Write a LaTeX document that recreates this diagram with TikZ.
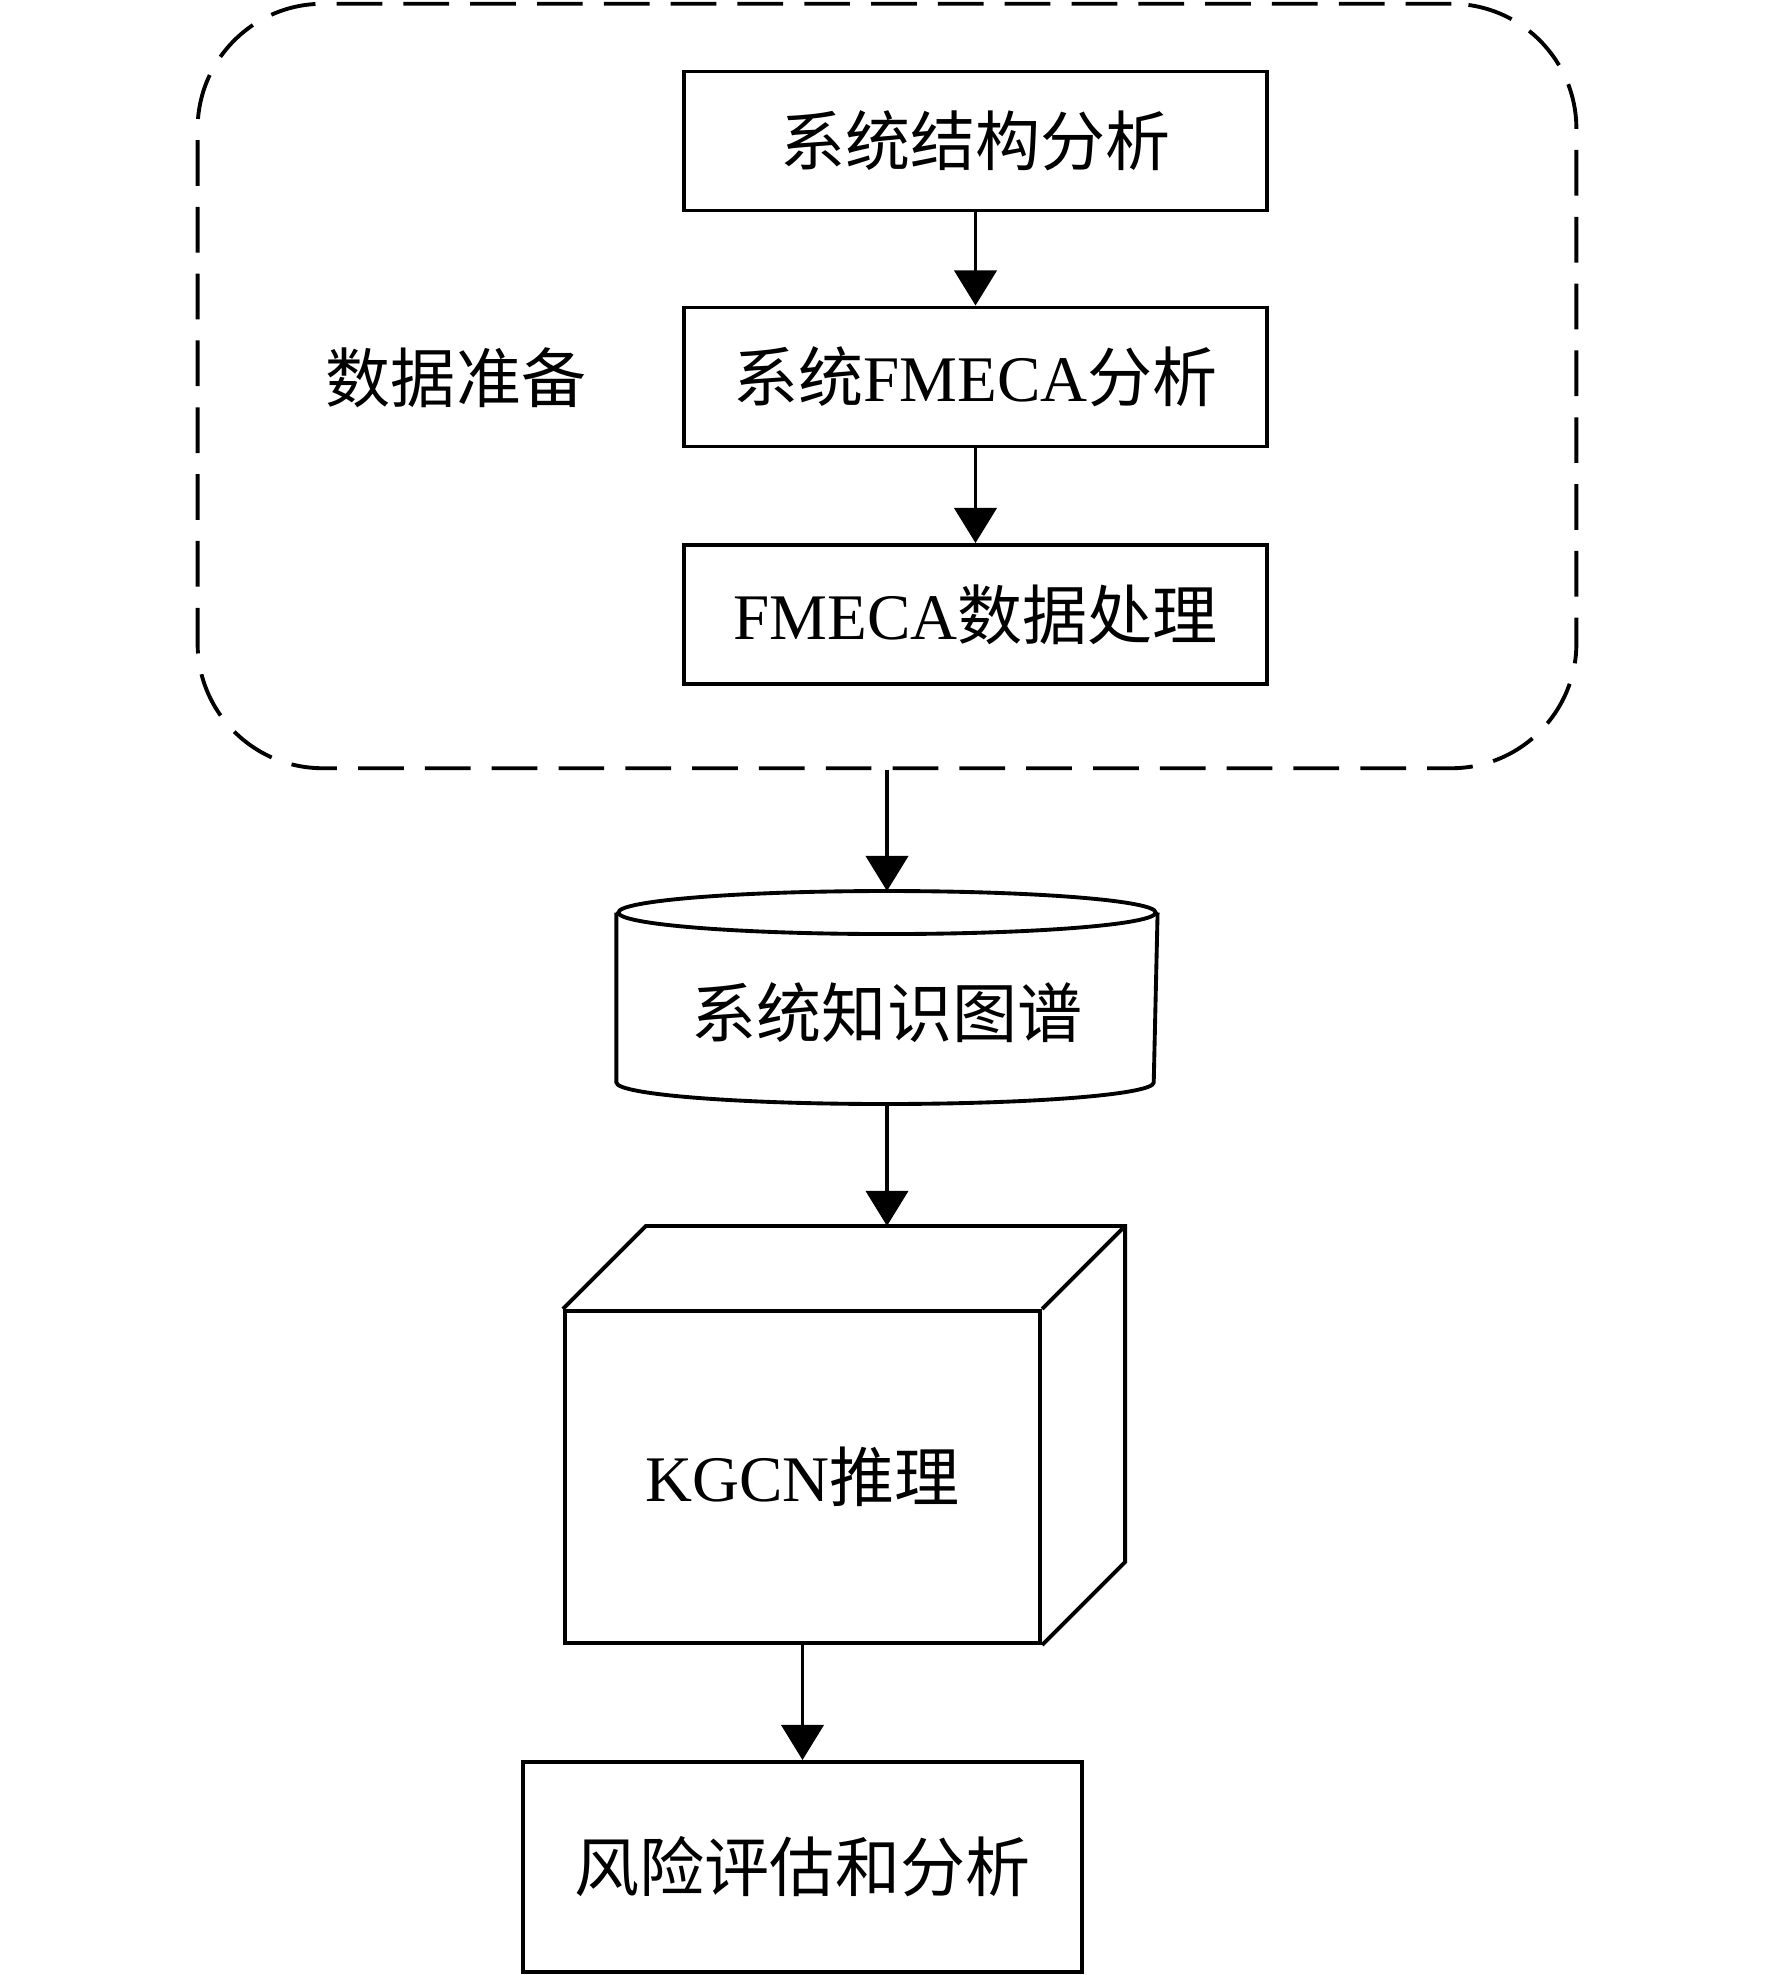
\documentclass[tikz,border=0pt]{standalone}
\usepackage{fontspec}
\setmainfont{Liberation Serif}
\newfontfamily\cjk{Noto Sans CJK SC}
\newcommand\zh[1]{{\cjk #1}}
\usetikzlibrary{arrows.meta,calc}
\tikzset{
  box/.style={draw, rectangle, inner sep=0pt, minimum width=5.83cm, minimum height=1.39cm},
  arr/.style={-{Triangle[length=10pt,width=12pt]}},
  prepframe/.style={draw, dashed, dash pattern=on 13pt off 6pt, rounded corners=1.25cm, inner sep=0pt, minimum width=13.78cm, minimum height=7.64cm},
}
\begin{document}
\begin{tikzpicture}[x=0.01cm, y=-0.01cm, line width=1.1pt, line join=miter, font=\fontsize{18.5pt}{22pt}\selectfont]
\useasboundingbox (0,0) rectangle (1772,1975);
% data preparation frame
\node[prepframe] (prep) at (887,386) {};
\node (preplabel) at (456,378) {\zh{数据准备}};
% boxes
\node[box] (b1) at (975.5,141) {\zh{系统结构分析}};
\node[box] (b2) at (975.5,377) {\zh{系统}FMECA\zh{分析}};
\node[box] (b3) at (975.5,614.5) {FMECA\zh{数据处理}};
\draw[arr] (b1) -- (b2);
\draw[arr] (b2) -- (b3);
% cylinder
\node[inner sep=0pt, minimum width=5.37cm, minimum height=2.09cm] (cyl) at (887,997.5) {};
\draw ([yshift=-0.215cm]cyl.north west) -- ([yshift=0.215cm]cyl.south west)
  arc[start angle=180, end angle=360, x radius=2.685cm, y radius=0.215cm]
  -- ([yshift=-0.215cm]cyl.north east);
\draw ([yshift=-0.215cm]cyl.north) ellipse[x radius=2.685cm, y radius=0.215cm];
\node (cyltext) at (887,1013) {\zh{系统知识图谱}};
\draw[arr] (prep.south) -- (cyl.north);
% cube
\node[draw, inner sep=0pt, minimum width=4.75cm, minimum height=3.32cm] (kgcn) at (802.5,1477) {KGCN\zh{推理}};
\coordinate (bne) at ([shift={(0.83cm,0.83cm)}]kgcn.north east);
\coordinate (bse) at ([shift={(0.83cm,0.83cm)}]kgcn.south east);
\draw (kgcn.north west) -- ++(0.83cm,0.83cm) -- (bne) -- (bse) -- (kgcn.south east);
\draw (bne) -- (kgcn.north east);
\path ([yshift=0.83cm]kgcn.north) coordinate (kt);
\coordinate (ktop) at (cyl.south |- kt);
\draw[arr] (cyl.south) -- (ktop);
% final box
\node[draw, inner sep=0pt, minimum width=5.59cm, minimum height=2.10cm] (risk) at (802.5,1867) {\zh{风险评估和分析}};
\draw[arr] (kgcn.south) -- (risk.north);
\end{tikzpicture}
\end{document}
